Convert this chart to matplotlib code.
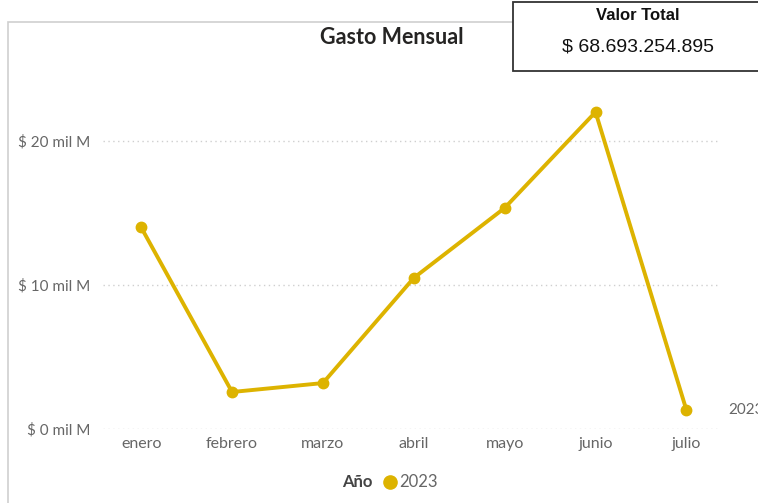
import matplotlib.pyplot as plt
from matplotlib.patches import Rectangle

# Gasto mensual 2023 (miles de millones)
meses = ["enero", "febrero", "marzo", "abril", "mayo", "junio", "julio"]
gasto = [14.0, 2.57, 3.19, 10.49, 15.35, 22.01, 1.32]
yticks = [0, 10, 20]
ytick_labels = ["$ 0 mil M", "$ 10 mil M", "$ 20 mil M"]
serie = "2023"
total = "$ 68.693.254.895"

plt.rcParams["font.family"] = ["Lato", "DejaVu Sans"]

color = "#DDB300"
gris = "#666666"

fig = plt.figure(figsize=(7.58, 5.03), dpi=100)
ax = fig.add_axes([0.1359, 0.1471, 0.814, 0.6728])

x = list(range(len(meses)))
ax.plot(x, gasto, color=color, linewidth=2.8, marker="o", markersize=7.5,
        solid_joinstyle="round", clip_on=False, zorder=3)

ax.set_xlim(-0.42, 6.37)
ax.set_ylim(0, 23.5)
ax.set_xticks(x)
ax.set_xticklabels(meses, fontsize=11.5, color=gris)
ax.set_yticks(yticks)
ax.set_yticklabels(ytick_labels, fontsize=11, color=gris)
ax.tick_params(length=0)
ax.tick_params(axis="x", pad=6)
ax.tick_params(axis="y", pad=9)
ax.grid(axis="y", color="#CFCFCF", linestyle=(0, (1, 2.5)), linewidth=1)
for s in ax.spines.values():
    s.set_visible(False)

# etiqueta de la serie al final
ax.annotate(serie, xy=(x[-1], gasto[-1]), xytext=(30, 0), textcoords="offset points",
            va="center", ha="left", fontsize=11, color=gris, annotation_clip=False)

# marco del visual
fig.patches.append(Rectangle((8 / 758, -0.01), 1.0, (503 - 22) / 503 + 0.01,
                             transform=fig.transFigure, fill=False,
                             edgecolor="#CFCFCF", linewidth=1.2))

fig.text(392 / 758, 1 - 38 / 503, "Gasto Mensual", ha="center", va="center",
         fontsize=15.5, fontweight="bold", color="#252423")

# leyenda
fig.text(372 / 758, 1 - 482 / 503, "Año", ha="right", va="center",
         fontsize=12, fontweight="bold", color="#444444")
fig.lines.append(plt.Line2D([390 / 758], [1 - 482 / 503], marker="o", markersize=9.5,
                            color=color, linestyle="none", transform=fig.transFigure))
fig.text(399 / 758, 1 - 482 / 503, serie, ha="left", va="center",
         fontsize=12, color=gris)

# tarjeta Valor Total
fig.patches.append(Rectangle((513 / 758, 1 - 71 / 503), 0.5, 69 / 503,
                             transform=fig.transFigure, facecolor="white",
                             edgecolor="#333333", linewidth=1.3, zorder=5))
fig.text(638 / 758, 1 - 15 / 503, "Valor Total", ha="center", va="center",
         fontsize=12, fontweight="bold", family="Liberation Sans", color="#111111", zorder=6)
fig.text(638 / 758, 1 - 47 / 503, total, ha="center", va="center",
         fontsize=14, family="Liberation Sans", color="#111111", zorder=6)

fig.savefig("out.png", dpi=100)
